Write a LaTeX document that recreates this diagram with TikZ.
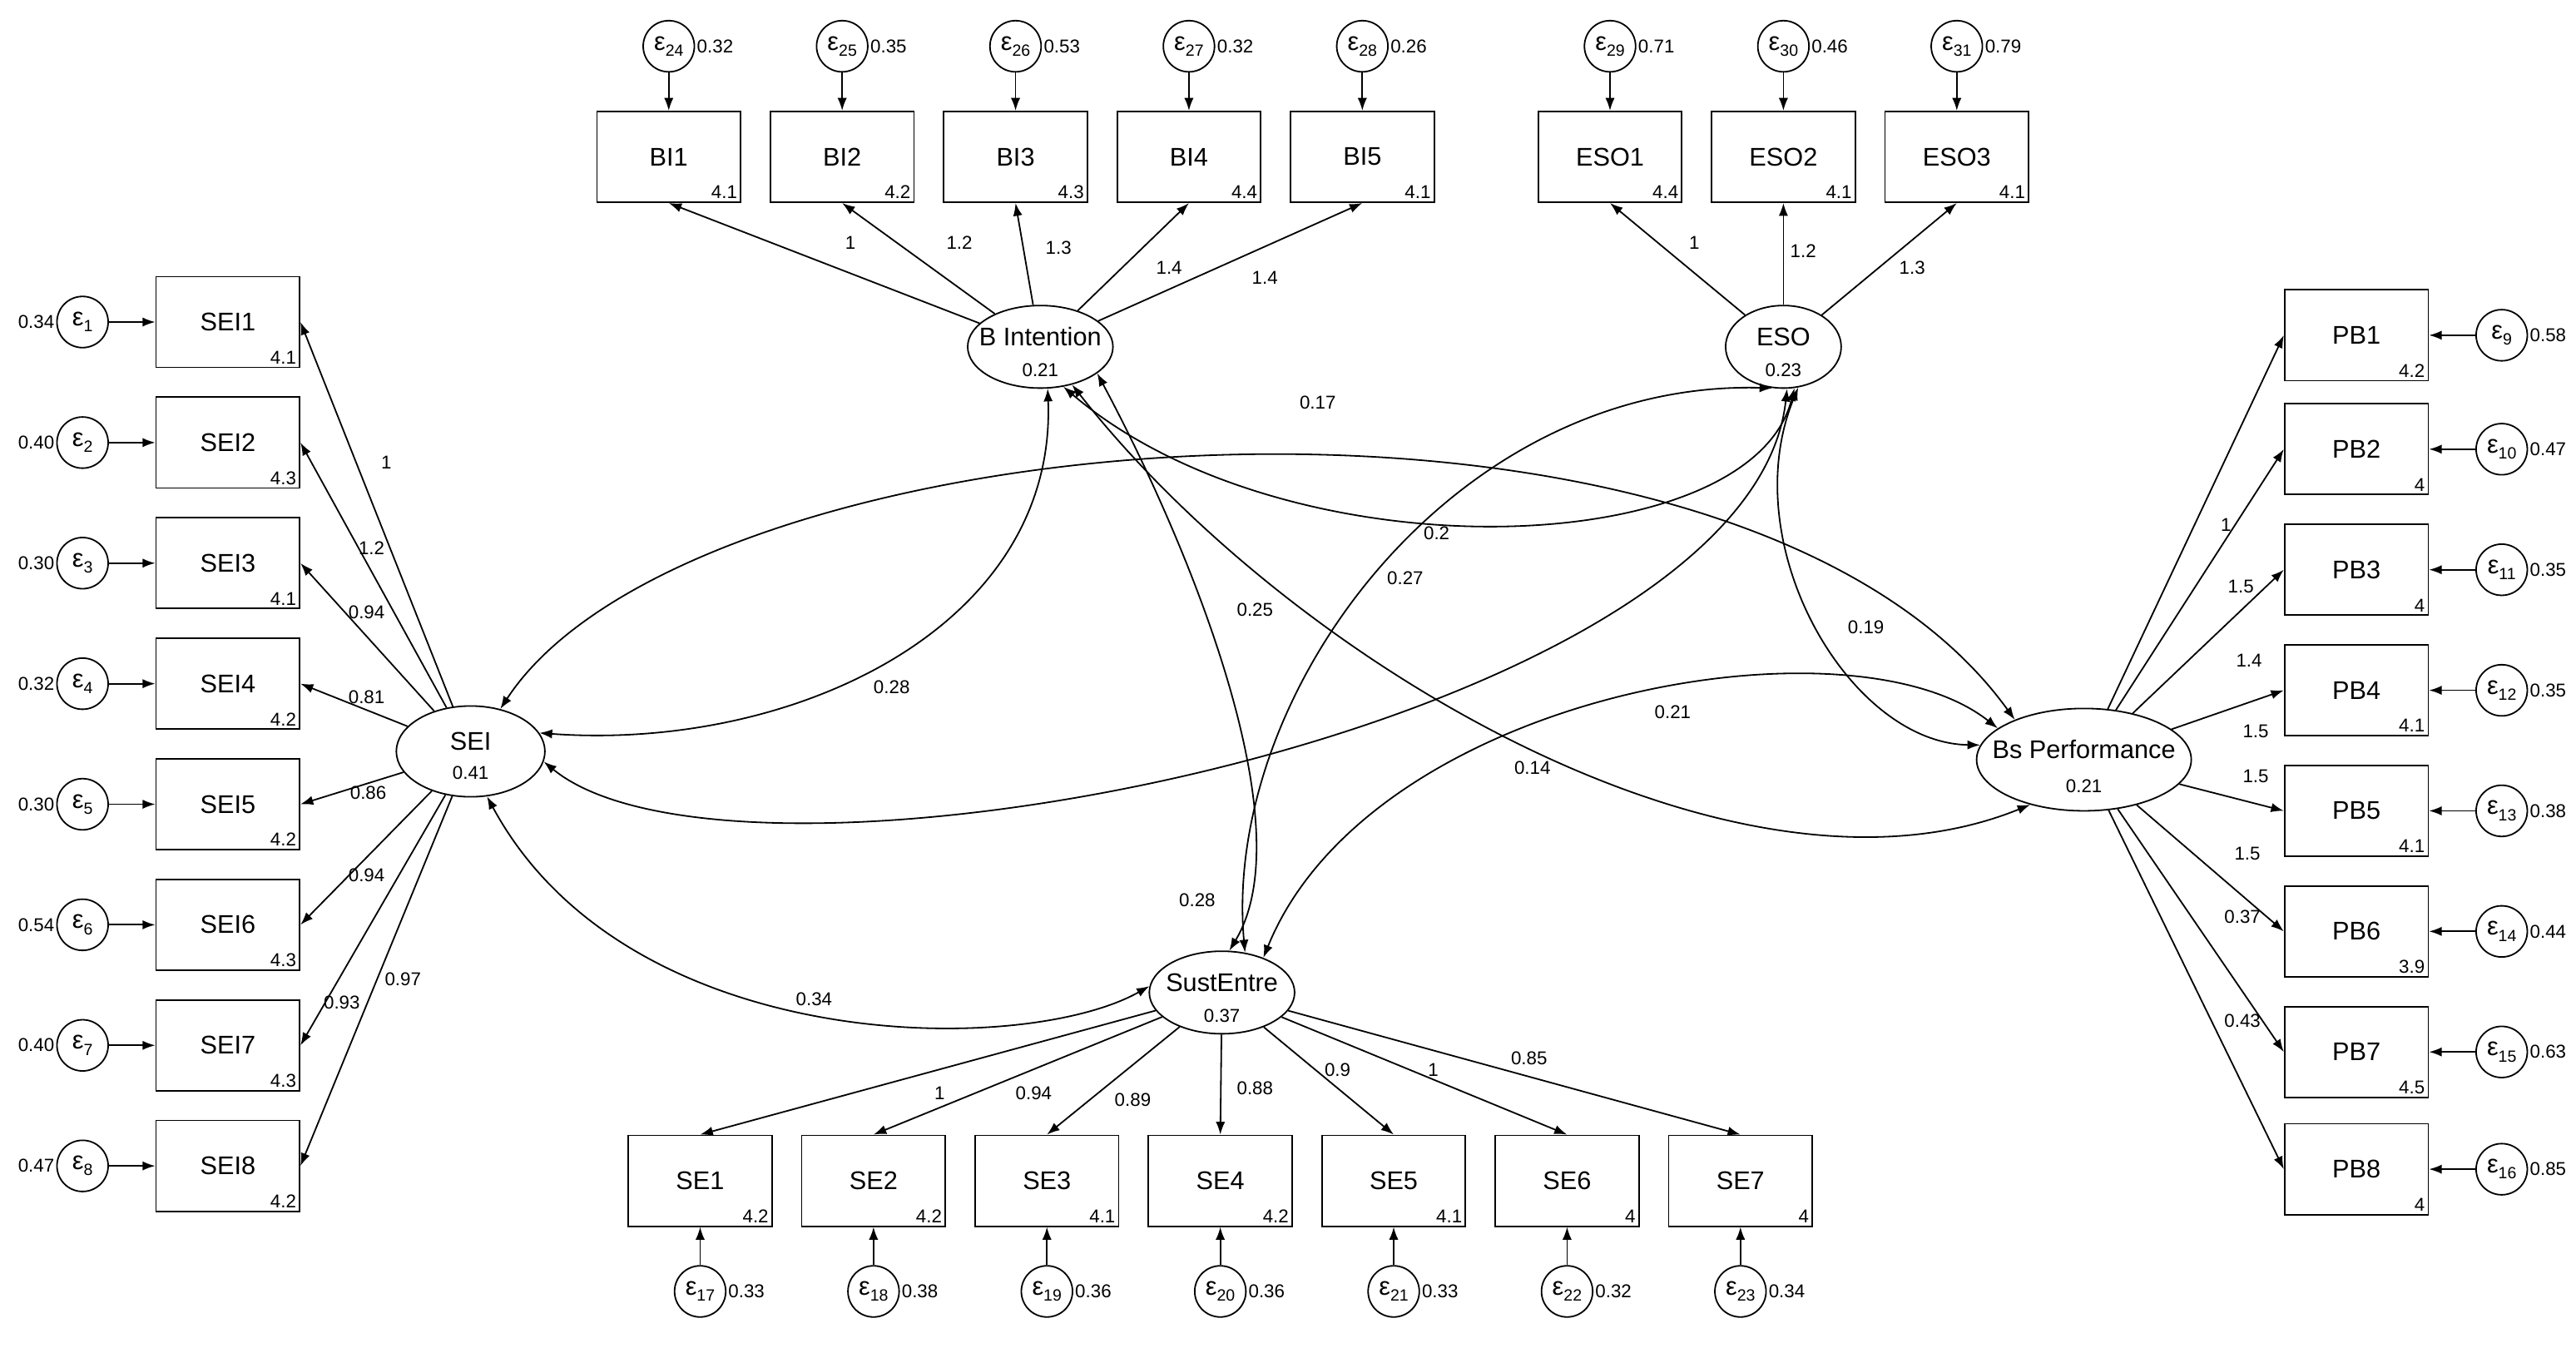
\documentclass[tikz,border=0pt]{standalone}
\usepackage{fontspec}
\setmainfont{Liberation Sans}
\usetikzlibrary{shapes.geometric,arrows.meta}
\newcommand{\bigf}{\fontsize{22}{24}\selectfont}
\newcommand{\smf}{\fontsize{16}{18}\selectfont}
\newcommand{\eps}[1]{ε\raisebox{-0.45ex}{\fontsize{14}{14}\selectfont #1}}
\begin{document}
\begin{tikzpicture}[x=0.05cm,y=-0.05cm,
 >={Latex[length=11pt,width=8pt]},
 every path/.style={line width=1.3pt},
 box/.style={draw,line width=1.3pt,minimum width=4.35cm,minimum height=2.75cm,inner sep=0,font=\bigf},
 err/.style={circle,draw,line width=1.3pt,minimum size=1.55cm,inner sep=0,font=\bigf},
 lat/.style={ellipse,draw,line width=1.3pt,inner sep=0},
 mn/.style={anchor=south east,inner sep=3pt,font=\smf},
 sm/.style={font=\smf,inner sep=1pt},
 nm/.style={font=\bigf,inner sep=0}]
\useasboundingbox (0,0) rectangle (1560,816);
\fill[white] (0,0) rectangle (1560,816);
% latents
\node[lat,minimum width=4.5cm,minimum height=2.75cm] (SEI) at (285,455) {};
\node[nm] (SEIn) at (285,449) {SEI}; \node[sm] (SEIv) at (285,468) {0.41};
\node[lat,minimum width=4.4cm,minimum height=2.5cm] (BI) at (630,210) {};
\node[nm] (BIn) at (630,204) {B Intention}; \node[sm] (BIv) at (630,224) {0.21};
\node[lat,minimum width=3.5cm,minimum height=2.5cm] (ESO) at (1080,210) {};
\node[nm] (ESOn) at (1080,204) {ESO}; \node[sm] (ESOv) at (1080,224) {0.23};
\node[lat,minimum width=4.4cm,minimum height=2.5cm] (SU) at (740,601) {};
\node[nm] (SUn) at (740,595) {SustEntre}; \node[sm] (SUv) at (740,615) {0.37};
\node[lat,minimum width=6.5cm,minimum height=3.1cm] (BP) at (1262,460) {};
\node[nm] (BPn) at (1262,454) {Bs Performance}; \node[sm] (BPv) at (1262,476) {0.21};
% SEI indicators
\foreach \i/\y/\e/\m in {1/195/0.34/4.1,2/268/0.40/4.3,3/341/0.30/4.1,4/414/0.32/4.2,5/487/0.30/4.2,6/560/0.54/4.3,7/633/0.40/4.3,8/706/0.47/4.2}{
 \node[box] (s\i) at (138,\y) {SEI\i};
 \node[mn] (sm\i) at (s\i.south east) {\m};
 \node[err] (se\i) at (50,\y) {\eps{\i}};
 \node[sm,anchor=east] (sev\i) at (se\i.west) {\e};
 \draw[->] (se\i) -- (s\i);
 \draw[->] (SEI) -- (s\i.east);
}
% PB indicators
\foreach \i/\y/\e/\m/\k in {1/203/0.58/4.2/9,2/272/0.47/4/10,3/345/0.35/4/11,4/418/0.35/4.1/12,5/491/0.38/4.1/13,6/564/0.44/3.9/14,7/637/0.63/4.5/15,8/708/0.85/4/16}{
 \node[box] (p\i) at (1427,\y) {PB\i};
 \node[mn] (pm\i) at (p\i.south east) {\m};
 \node[err] (pe\i) at (1515,\y) {\eps{\k}};
 \node[sm,anchor=west] (pev\i) at (pe\i.east) {\e};
 \draw[->] (pe\i) -- (p\i);
 \draw[->] (BP) -- (p\i.west);
}
% BI indicators
\foreach \i/\x/\e/\m/\k in {1/405/0.32/4.1/24,2/510/0.35/4.2/25,3/615/0.53/4.3/26,4/720/0.32/4.4/27,5/825/0.26/4.1/28}{
 \node[box] (b\i) at (\x,95) {BI\i};
 \node[mn] (bm\i) at (b\i.south east) {\m};
 \node[err] (be\i) at (\x,28) {\eps{\k}};
 \node[sm,anchor=west] (bev\i) at (be\i.east) {\e};
 \draw[->] (be\i) -- (b\i);
 \draw[->] (BI) -- (b\i.south);
}
% ESO indicators
\foreach \i/\x/\e/\m/\k in {1/975/0.71/4.4/29,2/1080/0.46/4.1/30,3/1185/0.79/4.1/31}{
 \node[box] (o\i) at (\x,95) {ESO\i};
 \node[mn] (om\i) at (o\i.south east) {\m};
 \node[err] (oe\i) at (\x,28) {\eps{\k}};
 \node[sm,anchor=west] (oev\i) at (oe\i.east) {\e};
 \draw[->] (oe\i) -- (o\i);
 \draw[->] (ESO) -- (o\i.south);
}
% SE indicators
\foreach \i/\x/\e/\m/\k in {1/424/0.33/4.2/17,2/529/0.38/4.2/18,3/634/0.36/4.1/19,4/739/0.36/4.2/20,5/844/0.33/4.1/21,6/949/0.32/4/22,7/1054/0.34/4/23}{
 \node[box] (q\i) at (\x,715) {SE\i};
 \node[mn] (qm\i) at (q\i.south east) {\m};
 \node[err] (qe\i) at (\x,782) {\eps{\k}};
 \node[sm,anchor=west] (qev\i) at (qe\i.east) {\e};
 \draw[->] (qe\i) -- (q\i);
 \draw[->] (SU) -- (q\i.north);
}
% loading labels
\foreach \t/\x/\y in {1/234/280,1.2/225/332,0.94/222/371,0.81/222/422,0.86/223/480,0.94/222/530,0.93/207/607,0.97/244/593,
 1/1348/318,1.5/1357/355,1.4/1362/400,1.5/1366/443,1.5/1366/470,1.5/1361/517,0.37/1358/555,0.43/1358/618,
 1/515/147,1.2/581/147,1.3/641/150,1.4/708/162,1.4/766/168,1/1026/147,1.2/1092/152,1.3/1158/162,
 1/569/662,0.94/626/662,0.89/686/666,0.88/760/659,0.9/810/648,1/868/648,0.85/926/641}{
 \node[sm] at (\x,\y) {\t};
}
% covariances
\draw[<->] (SEI.15) .. controls (480,455) and (640,380) .. (BI.-80);
\draw[<->] (SEI.-8) .. controls (450,560) and (1060,440) .. (ESO.-85);
\draw[<->] (SEI.55) .. controls (420,250) and (1050,200) .. (BP.150);
\draw[<->] (SEI.-70) .. controls (380,640) and (620,640) .. (SU.175);
\draw[<->] (BI.-60) .. controls (780,350) and (1060,340) .. (ESO.-75);
\draw[<->] (BI.-25) .. controls (720,330) and (790,500) .. (SU.80);
\draw[<->] (ESO.-105) .. controls (880,230) and (740,420) .. (SU.60);
\draw[<->] (BI.-50) .. controls (780,400) and (1050,560) .. (BP.-140);
\draw[<->] (ESO.-70) .. controls (1050,330) and (1120,450) .. (BP.172);
\draw[<->] (SU.40) .. controls (830,420) and (1120,370) .. (BP.160);
\node[sm] (c1) at (540,416) {0.28};
\node[sm] (c2) at (725,545) {0.28};
\node[sm] (c3) at (798,244) {0.17};
\node[sm] (c4) at (493,605) {0.34};
\node[sm] (c5) at (870,323) {0.2};
\node[sm] (c6) at (760,369) {0.25};
\node[sm] (c7) at (851,350) {0.27};
\node[sm] (c8) at (928,465) {0.14};
\node[sm] (c9) at (1130,380) {0.19};
\node[sm] (c10) at (1013,431) {0.21};
\end{tikzpicture}
\end{document}
